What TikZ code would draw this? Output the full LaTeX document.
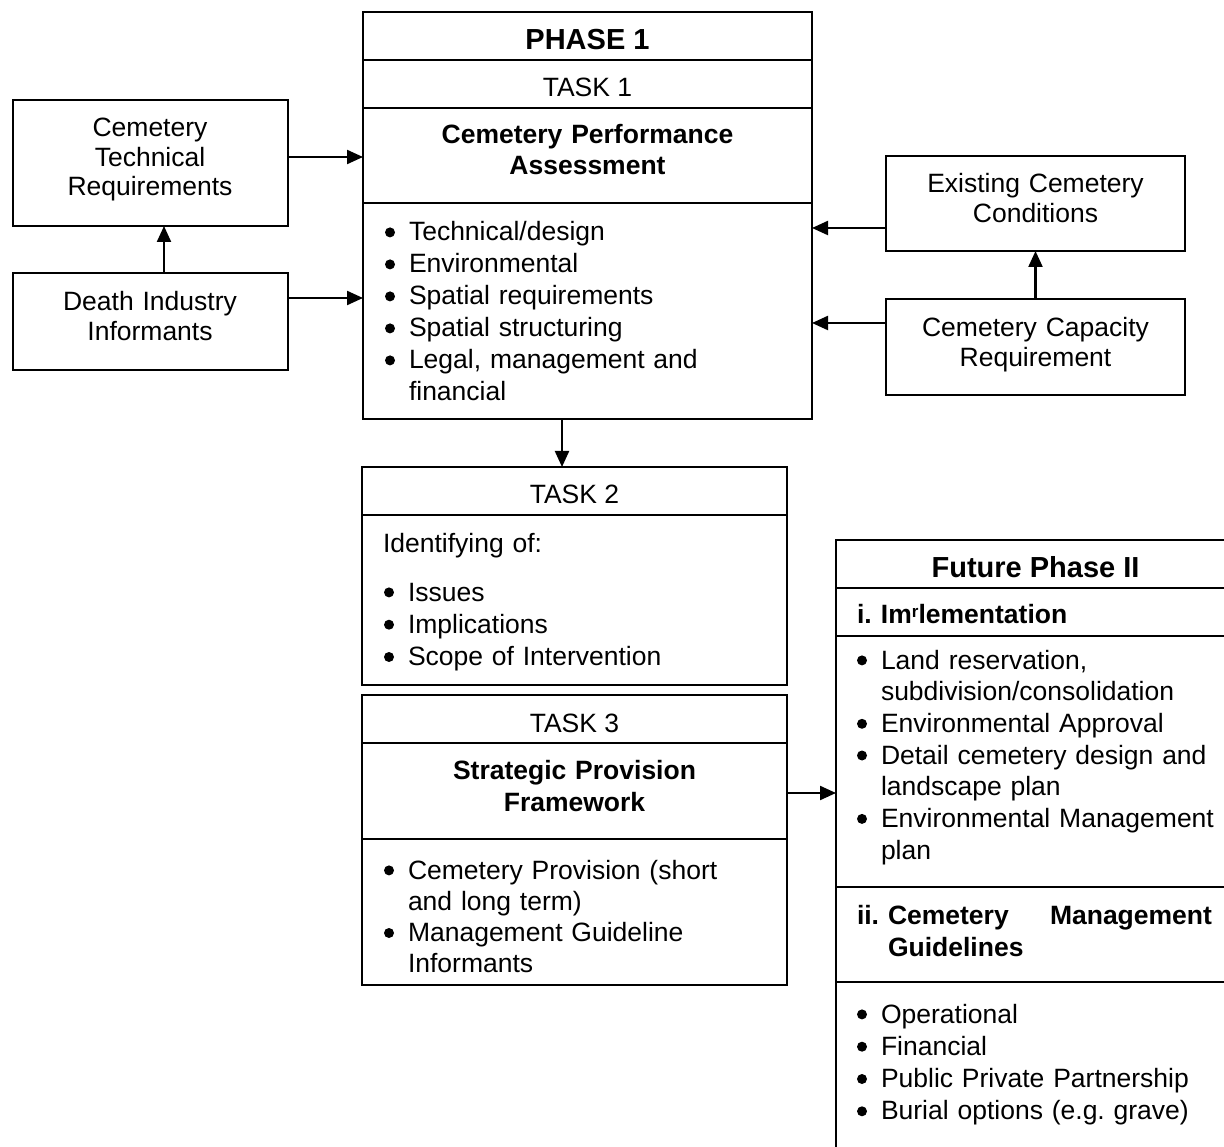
\documentclass[tikz,border=0pt]{standalone}
\usepackage{fontspec}
\setmainfont{Liberation Sans}
\usetikzlibrary{arrows.meta}
\newcommand\bul{\makebox[24pt][l]{\tikz[baseline=0pt]\fill (5pt,8.6pt) circle (5pt);}}
\newcommand\ind{\hspace*{24pt}}
\frenchspacing
\begin{document}
\begin{tikzpicture}[x=1pt,y=-1pt,
  box/.style={draw, line width=2.2pt, inner sep=0pt, outer sep=0pt, anchor=north west},
  div/.style={line width=2.2pt},
  arr/.style={line width=2.2pt, -{Triangle[length=16pt,width=14pt]}},
  txt/.style={inner sep=0pt, outer sep=0pt, font=\fontsize{26.5}{30}\selectfont},
  ctxt/.style={txt, anchor=base, text width=#1, align=center},
  ltxt/.style={txt, anchor=base west, text width=#1, align=left},
  big/.style={inner sep=0pt, outer sep=0pt, anchor=base, font=\fontsize{29}{33}\selectfont\bfseries}
]
\useasboundingbox (0,0) rectangle (1224,1147);
\begin{scope}
\clip (0,0) rectangle (1224,1147);

% ---------- boxes ----------
\node[box, minimum width=449pt, minimum height=407pt] (p1) at (363,12) {};
\node[box, minimum width=275pt, minimum height=126pt] (ctr) at (13,100) {};
\node[box, minimum width=275pt, minimum height=97pt] (dii) at (13,273) {};
\node[box, minimum width=299pt, minimum height=95pt] (ecc) at (886,156) {};
\node[box, minimum width=299pt, minimum height=96pt] (ccr) at (886,299) {};
\node[box, minimum width=425pt, minimum height=218pt] (t2) at (362,467) {};
\node[box, minimum width=425pt, minimum height=290pt] (t3) at (362,695) {};
\node[box, minimum width=410pt, minimum height=640pt] (fut) at (836,540) {};

% ---------- dividers ----------
\draw[div] (p1.west |- 0,60) -- (p1.east |- 0,60);
\draw[div] (p1.west |- 0,108) -- (p1.east |- 0,108);
\draw[div] (p1.west |- 0,203) -- (p1.east |- 0,203);
\draw[div] (t2.west |- 0,515) -- (t2.east |- 0,515);
\draw[div] (t3.west |- 0,743) -- (t3.east |- 0,743);
\draw[div] (t3.west |- 0,839) -- (t3.east |- 0,839);
\draw[div] (fut.west |- 0,588) -- (fut.east |- 0,588);
\draw[div] (fut.west |- 0,636) -- (fut.east |- 0,636);
\draw[div] (fut.west |- 0,887) -- (fut.east |- 0,887);
\draw[div] (fut.west |- 0,982) -- (fut.east |- 0,982);

% ---------- texts: phase 1 ----------
\node[big] (p1h) at (587.5,50) {PHASE 1};
\node[txt, anchor=base] (p1t) at (587.5,97) {TASK 1};
\node[ctxt=440pt, font=\fontsize{26.5}{31}\selectfont\bfseries] (p1n) at (587.5,144) {Cemetery Performance\\Assessment};
\node[ltxt=420pt, font=\fontsize{26.5}{32}\selectfont] (p1l) at (385,241)
  {\bul Technical/design\\ \bul Environmental\\ \bul Spatial requirements\\ \bul Spatial structuring\\ \bul Legal, management and\\ \ind financial};

% ---------- side boxes ----------
\node[ctxt=270pt, font=\fontsize{26.5}{29.5}\selectfont] (ctrt) at (150,137) {Cemetery\\Technical\\Requirements};
\node[ctxt=270pt, font=\fontsize{26.5}{30}\selectfont] (diit) at (150,311) {Death Industry\\Informants};
\node[ctxt=295pt, font=\fontsize{26.5}{29.5}\selectfont] (ecct) at (1035.5,193) {Existing Cemetery\\Conditions};
\node[ctxt=295pt, font=\fontsize{26.5}{29.5}\selectfont] (ccrt) at (1035.5,337) {Cemetery Capacity\\Requirement};

% ---------- task 2 ----------
\node[txt, anchor=base] (t2t) at (574.5,503) {TASK 2};
\node[ltxt=400pt] (t2i) at (383,552) {Identifying of:};
\node[ltxt=400pt, font=\fontsize{26.5}{32.3}\selectfont] (t2l) at (384,601)
  {\bul Issues\\ \bul Implications\\ \bul Scope of Intervention};

% ---------- task 3 ----------
\node[txt, anchor=base] (t3t) at (574.5,732) {TASK 3};
\node[ctxt=420pt, font=\fontsize{26.5}{32}\selectfont\bfseries] (t3n) at (574.5,779) {Strategic Provision\\Framework};
\node[ltxt=400pt, font=\fontsize{26.5}{31.3}\selectfont] (t3l) at (384,879)
  {\bul Cemetery Provision (short\\ \ind and long term)\\ \bul Management Guideline\\ \ind Informants};

% ---------- future phase ----------
\node[big] (futh) at (1035.5,577) {Future Phase II};
\node[ltxt=380pt, font=\fontsize{26.5}{31}\selectfont\bfseries] (futi) at (857,623)
  {\makebox[24pt][l]{i.}Im\raisebox{0.22em}{\fontsize{17}{17}\selectfont r}lementation};
\node[ltxt=400pt, font=\fontsize{26.5}{31.7}\selectfont] (futl) at (857,669)
  {\bul Land reservation,\\ \ind subdivision/consolidation\\ \bul Environmental Approval\\ \bul Detail cemetery design and\\ \ind landscape plan\\ \bul Environmental Management\\ \ind plan};
\node[ltxt=380pt, font=\fontsize{26.5}{32}\selectfont\bfseries] (futii) at (857,924)
  {\makebox[355pt][l]{\makebox[31pt][l]{ii.}Cemetery\hfill Management}\\ \hspace*{31pt}Guidelines};
\node[ltxt=400pt, font=\fontsize{26.5}{32.3}\selectfont] (futl2) at (857,1023)
  {\bul Operational\\ \bul Financial\\ \bul Public Private Partnership\\ \bul Burial options (e.g. grave)};

% ---------- connectors ----------
\draw[arr] (ctr.east |- 0,157) -- (p1.west |- 0,157);
\draw[arr] (dii.east |- 0,298) -- (p1.west |- 0,298);
\draw[arr] (dii.north -| 164,0) -- (ctr.south -| 164,0);
\draw[arr] (ecc.west |- 0,228) -- (p1.east |- 0,228);
\draw[arr] (ccr.west |- 0,323) -- (p1.east |- 0,323);
\draw[arr] (ccr.north) -- (ecc.south);
\draw[arr] (p1.south -| 562,0) -- (t2.north -| 562,0);
\draw[arr] (t3.east |- 0,793) -- (fut.west |- 0,793);
\end{scope}
\end{tikzpicture}
\end{document}
